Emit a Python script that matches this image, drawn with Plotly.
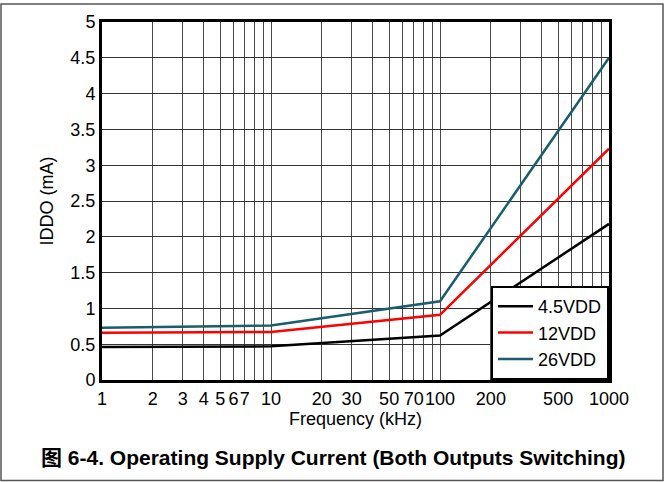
import plotly.graph_objects as go

# Data
freq_khz = [1, 10, 100, 1000]
i_4v5 = [0.46, 0.47, 0.62, 2.18]
i_12v = [0.66, 0.67, 0.91, 3.23]
i_26v = [0.73, 0.76, 1.10, 4.50]
series_names = ["4.5VDD", "12VDD", "26VDD"]
series_colors = ["#000000", "#FF0000", "#1A5E6E"]

x_tick_vals = [1, 2, 3, 4, 5, 6, 7, 8, 9,
               10, 20, 30, 40, 50, 60, 70, 80, 90,
               100, 200, 300, 400, 500, 600, 700, 800, 900, 1000]
x_labels_shown = {1: "1", 2: "2", 3: "3", 4: "4", 5: "5", 6: "6", 7: "7",
                  10: "10", 20: "20", 30: "30", 50: "50", 70: "70",
                  100: "100", 200: "200", 500: "500", 1000: "1000"}
x_tick_text = [x_labels_shown.get(v, "") for v in x_tick_vals]
y_tick_vals = [0, 0.5, 1, 1.5, 2, 2.5, 3, 3.5, 4, 4.5, 5]
y_tick_text = ["0", "0.5", "1", "1.5", "2", "2.5", "3", "3.5", "4", "4.5", "5"]

FONT = "Liberation Sans, Arial, Noto Sans CJK SC, sans-serif"

fig = go.Figure()
for ys, name, col in zip([i_4v5, i_12v, i_26v], series_names, series_colors):
    fig.add_trace(go.Scatter(x=freq_khz, y=ys, mode="lines", name=name,
                             line=dict(color=col, width=2.5)))

W, H = 666, 482
ml, mr, mt, mb = 102, 57, 20, 102
pw, ph = W - ml - mr, H - mt - mb

def px_x(p):
    return (p - ml) / pw

def px_y(p):
    return (H - mb - p) / ph

fig.update_layout(
    width=W, height=H,
    margin=dict(l=ml, r=mr, t=mt, b=mb),
    paper_bgcolor="white", plot_bgcolor="white",
    font=dict(family=FONT, size=18, color="black"),
    showlegend=True,
    legend=dict(x=1, y=0, xanchor="right", yanchor="bottom",
                bgcolor="white", bordercolor="black", borderwidth=2,
                font=dict(size=18), tracegroupgap=0,
                itemwidth=35),
    xaxis=dict(type="log", range=[0, 3], tickvals=x_tick_vals, ticktext=x_tick_text,
               tickangle=0,
               showgrid=True, gridcolor="#4a4a4a", gridwidth=1,
               showline=True, linecolor="black", linewidth=3, mirror=True,
               ticks="", zeroline=False,
               title=dict(text="Frequency (kHz)", font=dict(size=18), standoff=0),
               tickfont=dict(size=18)),
    yaxis=dict(range=[0, 5], tickvals=y_tick_vals, ticktext=y_tick_text,
               showgrid=True, gridcolor="#333333", gridwidth=1,
               showline=True, linecolor="black", linewidth=3, mirror=True,
               ticks="", zeroline=False,
               title=dict(text="IDDO (mA)", font=dict(size=18), standoff=13),
               tickfont=dict(size=18)),
)

# Outer figure border
fig.add_shape(type="rect", xref="paper", yref="paper",
              x0=px_x(1), x1=px_x(663), y0=px_y(481), y1=px_y(2),
              line=dict(color="#555555", width=1.5), fillcolor="rgba(0,0,0,0)",
              layer="below")

# Caption
fig.add_annotation(xref="paper", yref="paper", x=px_x(333), y=px_y(458),
                   text="<b>图 6-4. Operating Supply Current (Both Outputs Switching)</b>",
                   showarrow=False, font=dict(size=21, family=FONT, color="black"),
                   xanchor="center", yanchor="middle")

fig.write_html("out.html", config={"displayModeBar": False},
               post_script="document.body.style.margin='0';")
